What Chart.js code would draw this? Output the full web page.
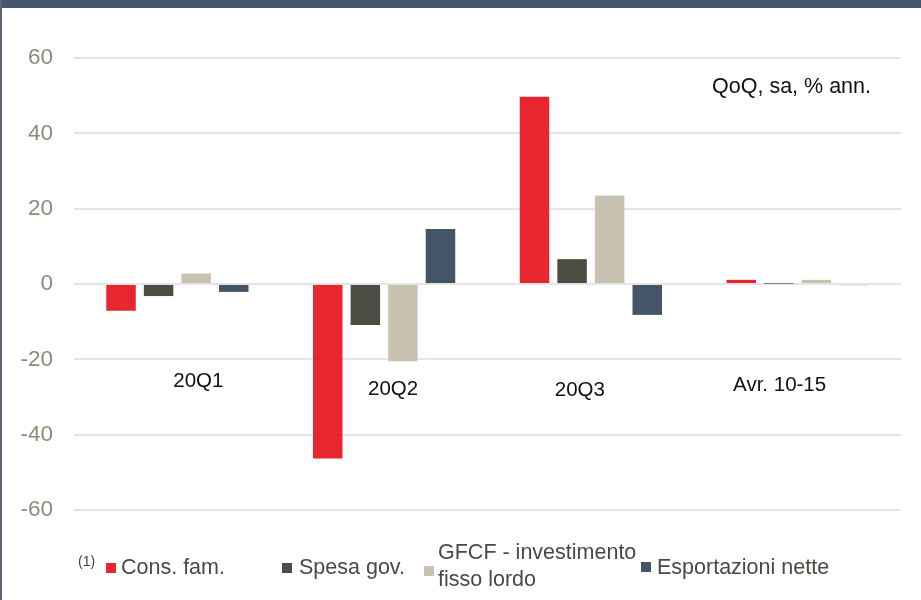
<!DOCTYPE html>
<html>
<head>
<meta charset="utf-8">
<script src="https://cdn.jsdelivr.net/npm/chart.js@4/dist/chart.umd.min.js"></script>
<style>
  html, body { margin: 0; padding: 0; background: #fff; }
  #wrap { position: relative; width: 921px; height: 600px; overflow: hidden; }
  #topbar { position: absolute; left: 0; top: 0; width: 921px; height: 8px; background: #44546a; }
  #leftbar { position: absolute; left: 0; top: 0; width: 2px; height: 600px; background: #5b6675; }
  canvas { position: absolute; left: 0; top: 0; }
</style>
</head>
<body>
<div id="wrap">
  <canvas id="c" width="921" height="600"></canvas>
  <div id="topbar"></div>
  <div id="leftbar"></div>
</div>
<script>
// Quarters shown on the category axis
const categories = ['20Q1', '20Q2', '20Q3', 'Avr. 10-15'];

// Contributions, QoQ, seasonally adjusted, % annualised
const consFam   = [-7.1, -46.3, 49.7, 1.1];
const spesaGov  = [-3.2, -10.9, 6.6, 0.1];
const gfcf      = [2.8, -20.5, 23.5, 1.1];
const esportNet = [-2.1, 14.6, -8.2, -0.3];

const seriesNames = ['Cons. fam.', 'Spesa gov.', 'GFCF - investimento\nfisso lordo', 'Esportazioni nette'];
const seriesColors = ['#e8262f', '#4b4c42', '#c9c2b0', '#435566'];

const yTicks = [-60, -40, -20, 0, 20, 40, 60];

const FONT = '"Liberation Sans", Arial, sans-serif';

// Category captions sit inside the plot, slightly shifted per group
const captionShift = [
  { dx: 21, y: -25.8 },
  { dx: 9,  y: -28.0 },
  { dx: -11, y: -28.2 },
  { dx: -18, y: -26.9 }
];

const textPlugin = {
  id: 'texts',
  afterDraw(chart) {
    const { ctx, scales: { x, y } } = chart;
    ctx.save();
    // category captions
    ctx.fillStyle = '#111111';
    ctx.font = '20.5px ' + FONT;
    ctx.textAlign = 'center';
    ctx.textBaseline = 'middle';
    categories.forEach((c, i) => {
      const s = captionShift[i];
      ctx.fillText(c, x.getPixelForValue(i) + s.dx, y.getPixelForValue(s.y));
    });
    // unit note
    ctx.font = '21.5px ' + FONT;
    ctx.textAlign = 'right';
    ctx.fillText('QoQ, sa, % ann.', 871, 87);

    // legend
    ctx.textAlign = 'left';
    ctx.fillStyle = '#444444';
    ctx.font = '14px ' + FONT;
    ctx.fillText('(1)', 78, 562);
    const items = [
      { sx: 106, sy: 563, tx: 121 },
      { sx: 282, sy: 563, tx: 299 },
      { sx: 424, sy: 566, tx: 438 },
      { sx: 641, sy: 562, tx: 657 }
    ];
    chart.data.datasets.forEach((ds, i) => {
      const it = items[i];
      ctx.fillStyle = ds.backgroundColor;
      ctx.fillRect(it.sx, it.sy, 10, 10);
      ctx.fillStyle = '#4a4a44';
      ctx.font = '21.5px ' + FONT;
      const lines = seriesNames[i].split('\n');
      if (lines.length === 1) {
        ctx.fillText(lines[0], it.tx, 568);
      } else {
        ctx.fillText(lines[0], it.tx, 553);
        ctx.fillText(lines[1], it.tx, 580);
      }
    });
    ctx.restore();
  }
};

const datasets = [consFam, spesaGov, gfcf, esportNet].map((vals, i) => ({
  label: seriesNames[i].replace('\n', ' '),
  data: vals,
  backgroundColor: seriesColors[i],
  borderWidth: 0,
  categoryPercentage: 0.727,
  barPercentage: 0.785
}));

new Chart(document.getElementById('c'), {
  type: 'bar',
  data: { labels: categories, datasets },
  options: {
    responsive: false,
    devicePixelRatio: 1,
    animation: false,
    layout: { padding: { left: 0, right: 20, top: 58, bottom: 90 } },
    plugins: { legend: { display: false }, tooltip: { enabled: false } },
    scales: {
      x: { display: false },
      y: {
        min: -60, max: 60,
        afterFit(scale) { scale.width = 74; },
        afterBuildTicks(scale) { scale.ticks = yTicks.map(v => ({ value: v })); },
        border: { display: false },
        grid: { color: '#e4e4e4', lineWidth: 2, drawTicks: false },
        ticks: {
          padding: 21,
          color: '#8c8c7c',
          font: { family: FONT, size: 22.5 }
        }
      }
    }
  },
  plugins: [textPlugin]
});
</script>
</body>
</html>
